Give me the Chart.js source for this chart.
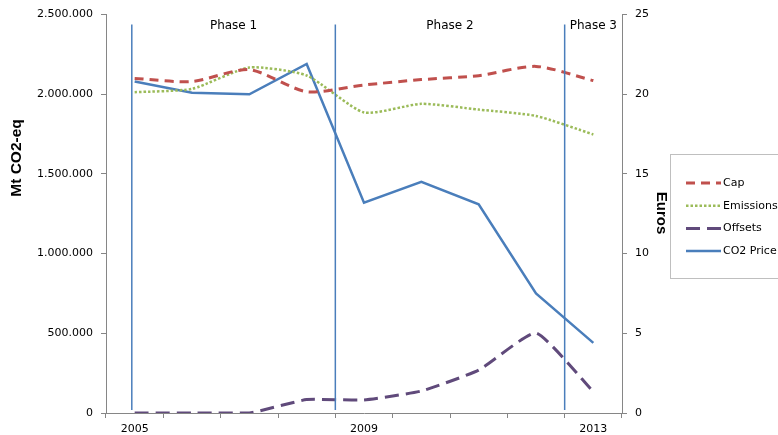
<!DOCTYPE html>
<html>
<head>
<meta charset="utf-8">
<script src="https://cdn.jsdelivr.net/npm/chart.js@4.4.1/dist/chart.umd.min.js"></script>
<style>
  html, body { margin: 0; padding: 0; background: #fff; }
  canvas { display: block; }
</style>
</head>
<body>
<canvas id="etsChart" width="778" height="435"></canvas>
<script>
const years = ['2005', '2006', '2007', '2008', '2009', '2010', '2011', '2012', '2013'];
const shownYears = ['2005', '2009', '2013'];
const cap = [2099000, 2080000, 2155000, 2016000, 2058000, 2092000, 2117000, 2175000, 2086000];
const emissions = [2013000, 2034000, 2168000, 2118000, 1886000, 1940000, 1904000, 1864000, 1748000];
const offsets = [0, 0, 0, 84000, 82000, 138000, 269000, 502000, 133000];
const co2Price = [20.8, 20.1, 20.0, 21.9, 13.2, 14.5, 13.1, 7.5, 4.4];
const phaseNames = ['Phase 1', 'Phase 2', 'Phase 3'];
const phaseStarts = [2004.95, 2008.5, 2012.5];

const tickFont = { family: 'DejaVu Sans', size: 11 };
const dotted = n => String(n).replace(/\B(?=(\d{3})+(?!\d))/g, '.');

// phase separators and their names
const phasePlugin = {
    id: 'phases',
    afterDatasetsDraw(chart) {
        const { ctx, chartArea, scales: { x } } = chart;
        const first = Number(years[0]);
        const xs = phaseStarts.map(p => x.getPixelForValue(p - first));
        ctx.save();
        ctx.strokeStyle = '#4a7ebb';
        ctx.lineWidth = 1.5;
        xs.forEach(px => {
            ctx.beginPath();
            ctx.moveTo(px, chartArea.top + 10);
            ctx.lineTo(px, chartArea.bottom - 3);
            ctx.stroke();
        });
        ctx.font = '12px "DejaVu Sans"';
        ctx.fillStyle = '#000';
        ctx.textAlign = 'center';
        ctx.textBaseline = 'middle';
        phaseNames.forEach((name, i) => {
            const end = i + 1 < xs.length ? xs[i + 1] : chartArea.right;
            ctx.fillText(name, (xs[i] + end) / 2, chartArea.top + 11);
        });
        ctx.restore();
    }
};

// axis titles and the boxed legend on the right
const decorPlugin = {
    id: 'decor',
    afterDraw(chart) {
        const ctx = chart.ctx;
        ctx.save();
        ctx.fillStyle = '#000';
        ctx.textAlign = 'center';
        ctx.textBaseline = 'middle';

        ctx.save();
        ctx.translate(17, 158);
        ctx.rotate(-Math.PI / 2);
        ctx.font = 'bold 15.5px "Liberation Sans"';
        ctx.fillText('Mt CO2-eq', 0, 0);
        ctx.restore();

        ctx.save();
        ctx.translate(661, 213);
        ctx.rotate(Math.PI / 2);
        ctx.font = 'bold 15px "Liberation Sans"';
        ctx.fillText('Euros', 0, 0);
        ctx.restore();

        ctx.strokeStyle = '#bfbfbf';
        ctx.lineWidth = 1;
        ctx.strokeRect(670.5, 154.5, 130, 124);

        ctx.font = '11px "DejaVu Sans"';
        ctx.textAlign = 'left';
        chart.data.datasets.forEach((ds, i) => {
            const y = 183 + i * 22.7;
            ctx.save();
            ctx.strokeStyle = ds.borderColor;
            ctx.lineWidth = ds.borderWidth;
            ctx.setLineDash(ds.borderDash || []);
            ctx.beginPath();
            ctx.moveTo(686, y);
            ctx.lineTo(721, y);
            ctx.stroke();
            ctx.restore();
            ctx.fillText(ds.label, 723, y);
        });
        ctx.restore();
    }
};

new Chart(document.getElementById('etsChart'), {
    type: 'line',
    data: {
        labels: years,
        datasets: [
            {
                label: 'Cap',
                data: cap,
                yAxisID: 'y',
                borderColor: '#c0504d',
                borderWidth: 3,
                borderDash: [9, 6],
                tension: 0.25
            },
            {
                label: 'Emissions',
                data: emissions,
                yAxisID: 'y',
                borderColor: '#9bbb59',
                borderWidth: 2.5,
                borderDash: [2.5, 2],
                tension: 0.2
            },
            {
                label: 'Offsets',
                data: offsets,
                yAxisID: 'y',
                borderColor: '#604a7b',
                borderWidth: 3,
                borderDash: [14, 7],
                tension: 0.15
            },
            {
                label: 'CO2 Price',
                data: co2Price,
                yAxisID: 'y1',
                borderColor: '#4a7ebb',
                borderWidth: 2.5,
                tension: 0
            }
        ]
    },
    options: {
        responsive: false,
        animation: false,
        devicePixelRatio: 1,
        layout: { padding: { top: 14, left: 0, right: 0, bottom: 0 } },
        elements: { point: { radius: 0 } },
        plugins: {
            legend: { display: false },
            tooltip: { enabled: false }
        },
        scales: {
            x: {
                offset: true,
                grid: { offset: true, drawOnChartArea: false, color: '#868686', tickLength: 5 },
                border: { color: '#868686' },
                ticks: {
                    autoSkip: false,
                    maxRotation: 0,
                    padding: 5,
                    color: '#000',
                    font: tickFont,
                    callback: function(value) {
                        const lab = this.getLabelForValue(value);
                        return shownYears.includes(lab) ? lab : '';
                    }
                },
                afterFit: s => { s.height = 22; }
            },
            y: {
                position: 'left',
                min: 0,
                max: 2500000,
                grid: { drawOnChartArea: false, color: '#868686', tickLength: 5 },
                border: { color: '#868686' },
                ticks: { stepSize: 500000, padding: 8, color: '#000', font: tickFont, callback: v => dotted(v) },
                afterFit: s => { s.width = 106; }
            },
            y1: {
                position: 'right',
                min: 0,
                max: 25,
                grid: { drawOnChartArea: false, color: '#868686', tickLength: 5 },
                border: { color: '#868686' },
                ticks: { stepSize: 5, padding: 8, color: '#000', font: tickFont },
                afterFit: s => { s.width = 156; }
            }
        }
    },
    plugins: [phasePlugin, decorPlugin]
});
</script>
</body>
</html>
